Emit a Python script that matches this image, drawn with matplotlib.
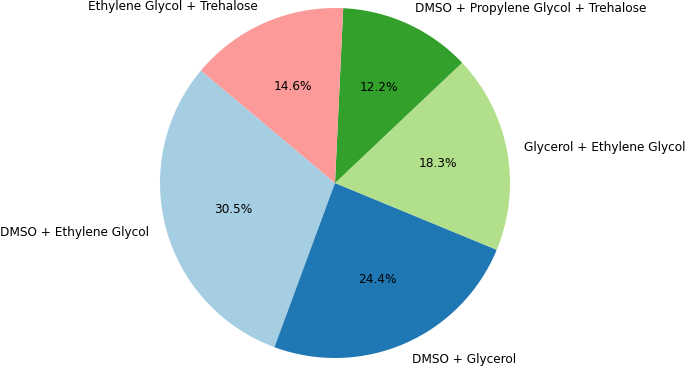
import matplotlib
matplotlib.use('Agg')
import matplotlib.pyplot as plt

# cryoprotectant combinations
labels = ['DMSO + Ethylene Glycol', 'DMSO + Glycerol', 'Glycerol + Ethylene Glycol',
          'DMSO + Propylene Glycol + Trehalose', 'Ethylene Glycol + Trehalose']
counts = [25, 20, 15, 10, 12]

colors = plt.cm.Paired.colors[:5]

fig = plt.figure(figsize=(6.85, 3.67), dpi=100)
ax = fig.add_axes([0, 0, 1, 1])
ax.pie(counts, labels=labels, colors=colors, autopct='%1.1f%%', startangle=140,
       textprops={'fontsize': 8.7})
ax.set_aspect('equal')
# place the pie like in the reference
ax.set_xlim(-335 / 175, 350 / 175)
ax.set_ylim(-184 / 175, 183 / 175)
ax.axis('off')

plt.savefig('out.png', dpi=100)
plt.close()
